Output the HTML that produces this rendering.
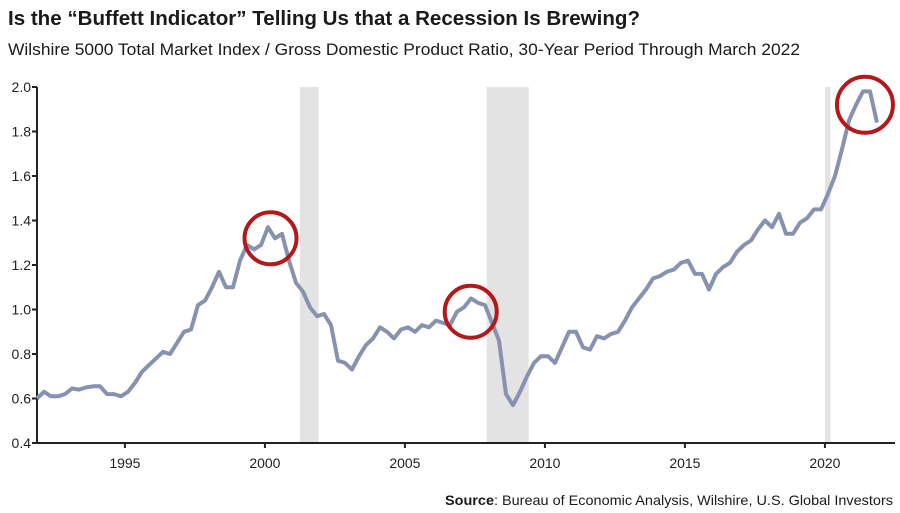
<!DOCTYPE html>
<html><head><meta charset="utf-8"><style>
html,body{margin:0;padding:0;background:#fff;}
svg{display:block;font-family:"Liberation Sans Narrow","Liberation Sans",sans-serif;}
</style></head><body>
<svg id="chart" width="900" height="513" viewBox="0 0 900 513">
<text x="8" y="25" font-size="20" font-weight="bold" fill="#1a1a1a" textLength="632" lengthAdjust="spacingAndGlyphs">Is the “Buffett Indicator” Telling Us that a Recession Is Brewing?</text>
<text x="8" y="55" font-size="17" fill="#1a1a1a" textLength="792" lengthAdjust="spacingAndGlyphs">Wilshire 5000 Total Market Index / Gross Domestic Product Ratio, 30-Year Period Through March 2022</text>
<g id="bands"></g>
<g id="axes"></g>
<path id="line" fill="none" stroke="#8792b0" stroke-width="4" stroke-linejoin="round"/>
<g id="circles"></g>
<text x="893" y="505" font-size="14" fill="#1a1a1a" text-anchor="end" textLength="448" lengthAdjust="spacingAndGlyphs"><tspan font-weight="bold">Source</tspan>: Bureau of Economic Analysis, Wilshire, U.S. Global Investors</text>
</svg>
<script>
const startYear = 1991.86;
const values = [
0.60,0.63,0.61,0.61, 0.62,0.645,0.64,0.65, 0.655,0.655,0.62,0.62,
0.61,0.63,0.67,0.72, 0.75,0.78,0.81,0.80, 0.85,0.90,0.91,1.02,
1.04,1.10,1.17,1.10, 1.10,1.22,1.29,1.27, 1.29,1.37,1.32,1.34,
1.22,1.12,1.08,1.01, 0.97,0.98,0.93,0.77, 0.76,0.73,0.79,0.84,
0.87,0.92,0.90,0.87, 0.91,0.92,0.90,0.93, 0.92,0.95,0.94,0.93,
0.99,1.01,1.05,1.03, 1.02,0.94,0.86,0.62, 0.57,0.63,0.70,0.76,
0.79,0.79,0.76,0.83, 0.90,0.90,0.83,0.82, 0.88,0.87,0.89,0.90,
0.95,1.01,1.05,1.09, 1.14,1.15,1.17,1.18, 1.21,1.22,1.16,1.16,
1.09,1.16,1.19,1.21, 1.26,1.29,1.31,1.36, 1.40,1.37,1.43,1.34,
1.34,1.39,1.41,1.45, 1.45,1.52,1.60,1.72, 1.85,1.92,1.98,1.98,
1.84];
const yTicks = [0.4,0.6,0.8,1.0,1.2,1.4,1.6,1.8,2.0];
const xTicks = [1995,2000,2005,2010,2015,2020];
const recessions = [[2001.25,2001.92],[2007.92,2009.42],[2020.0,2020.2]];
const highlights = [[2000.2,1.32],[2007.35,0.99],[2021.43,1.92]];

const X0=37,X1=895,Y0=443,Y1=87;
const xs = t => X0 + (t-1991.86)*28;
const ys = v => Y0 - (v-0.4)/1.6*(Y0-Y1);
const NS="http://www.w3.org/2000/svg";
function mk(tag,attrs,parent){const e=document.createElementNS(NS,tag);for(const k in attrs)e.setAttribute(k,attrs[k]);parent.appendChild(e);return e;}

const bands=document.getElementById('bands');
recessions.forEach(r=>{
  const b=mk('rect',{x:xs(r[0]),y:Y1,width:xs(r[1])-xs(r[0]),height:Y0-Y1,fill:'#e3e3e3'},bands);
  
  
});
const axes=document.getElementById('axes');
const ya=mk('line',{x1:X0,y1:Y1,x2:X0,y2:Y0,stroke:'#222','stroke-width':2},axes);


const xa=mk('line',{x1:X0,y1:Y0,x2:X1,y2:Y0,stroke:'#222','stroke-width':2},axes);


yTicks.forEach(v=>{
  const y=ys(v);
  mk('line',{x1:X0-5,y1:y,x2:X0,y2:y,stroke:'#222','stroke-width':2},axes);
  const t=mk('text',{x:X0-6,y:y+5,'font-size':14,'text-anchor':'end',fill:'#222'},axes);
  t.textContent=v.toFixed(1);
  
  
});
xTicks.forEach(yr=>{
  const x=xs(yr);
  mk('line',{x1:x,y1:Y0,x2:x,y2:Y0+5,stroke:'#222','stroke-width':2},axes);
  const t=mk('text',{x:x,y:Y0+25,'font-size':14,'text-anchor':'middle',fill:'#222'},axes);
  t.textContent=yr;
  
  
});
document.getElementById('line').setAttribute('d',values.map((v,i)=>(i?'L':'M')+xs(startYear+i*0.25).toFixed(1)+','+ys(v).toFixed(1)).join(''));
const circ=document.getElementById('circles');
highlights.forEach((h,i)=>{
  const c=mk('circle',{cx:xs(h[0]),cy:ys(h[1]),r:(i===2?28:26),fill:'none',stroke:'#b3191b','stroke-width':4},circ);
  
  
});
</script>
</body></html>
